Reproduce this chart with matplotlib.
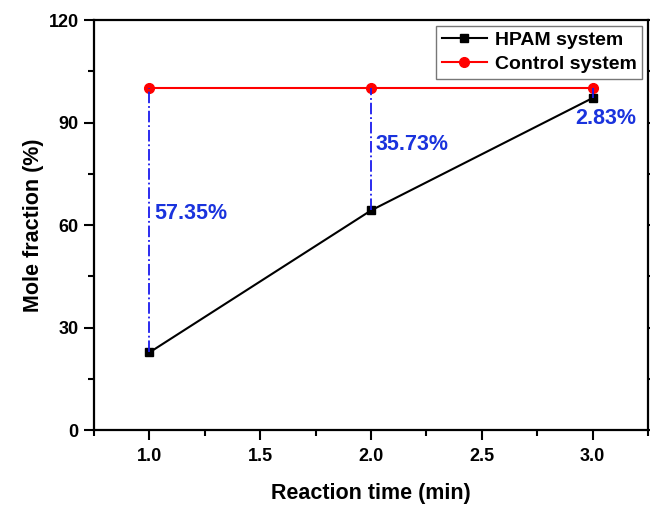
import numpy as np
import matplotlib
matplotlib.use('Agg')
import matplotlib.pyplot as plt
from matplotlib.ticker import MultipleLocator

plt.rcParams['font.family'] = ['Liberation Sans', 'DejaVu Sans']
plt.rcParams['font.weight'] = 'bold'

# data
time_min = [1.0, 2.0, 3.0]
hpam = [22.7, 64.27, 97.17]
control = [100.0, 100.0, 100.0]
gap_labels = ['57.35%', '35.73%', '2.83%']
label_x = [1.02, 2.02, 2.92]
label_y = [63.5, 83.5, 91.3]

fig = plt.figure(figsize=(6.5, 5.08), dpi=100)
ax = fig.add_axes([0.1446, 0.1535, 0.8524, 0.8071])

ax.plot(time_min, hpam, color='black', lw=1.5, marker='s', markersize=6,
        label='HPAM system', zorder=3)
ax.plot(time_min, control, color='red', lw=1.5, marker='o', markersize=7,
        label='Control system', zorder=3)

for i in range(len(time_min)):
    ax.plot([time_min[i], time_min[i]], [hpam[i], control[i]], color='#1a1aee',
            lw=1.3, ls='-.', zorder=4)
    ax.text(label_x[i], label_y[i], gap_labels[i], color='#1a33dd', fontsize=15.5,
            fontweight='bold', ha='left', va='center')

ax.set_xlim(0.75, 3.25)
ax.set_ylim(0, 120)
ax.xaxis.set_major_locator(MultipleLocator(0.5))
ax.xaxis.set_minor_locator(MultipleLocator(0.25))
ax.yaxis.set_major_locator(MultipleLocator(30))
ax.yaxis.set_minor_locator(MultipleLocator(15))
ax.tick_params(which='both', direction='out', width=1.5, labelsize=13, right=True)
ax.tick_params(axis='x', pad=6)
ax.tick_params(axis='y', pad=4)
ax.tick_params(which='major', length=7)
ax.tick_params(which='minor', length=4)
for s in ax.spines.values():
    s.set_linewidth(1.6)

ax.set_xlabel('Reaction time (min)', fontsize=15.5, fontweight='bold', labelpad=13)
ax.set_ylabel('Mole fraction (%)', fontsize=15.5, fontweight='bold', labelpad=3)

leg = ax.legend(loc='upper right', fontsize=14, frameon=True, fancybox=False,
                edgecolor='#555555', handlelength=2.3, borderpad=0.3,
                labelspacing=0.3, handletextpad=0.4, borderaxespad=0.3)
leg.get_frame().set_linewidth(1.0)

fig.savefig('out.png', dpi=100)
